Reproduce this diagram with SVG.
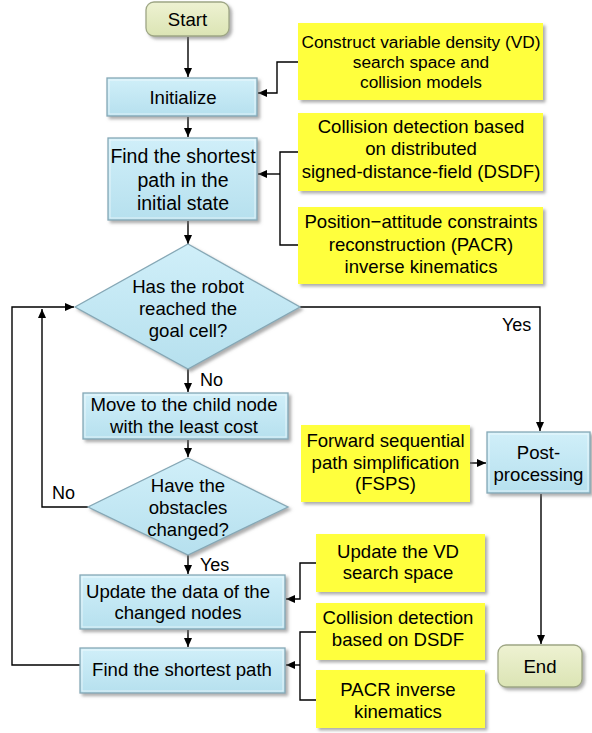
<svg xmlns="http://www.w3.org/2000/svg" width="592" height="733" viewBox="0 0 592 733">
<defs>
<linearGradient id="gBlue" x1="0" y1="0" x2="0" y2="1">
<stop offset="0" stop-color="#d0eff9"/>
<stop offset="1" stop-color="#b6e0ee"/>
</linearGradient>
<linearGradient id="gGreen" x1="0" y1="0" x2="0" y2="1">
<stop offset="0" stop-color="#eef2d2"/>
<stop offset="1" stop-color="#dbe4b4"/>
</linearGradient>
<filter id="sh" x="-10%" y="-10%" width="130%" height="130%">
<feDropShadow dx="2.5" dy="2.5" stdDeviation="1.5" flood-color="#777" flood-opacity="0.6"/>
</filter>
<marker id="ah" markerUnits="userSpaceOnUse" markerWidth="10" markerHeight="8" refX="9" refY="4" orient="auto">
<path d="M0,0 L9,4 L0,8 z" fill="#000"/>
</marker>
<style>
.blue{fill:url(#gBlue);stroke:#86a8b6;stroke-width:1.3;filter:url(#sh)}
.green{fill:url(#gGreen);stroke:#9ea685;stroke-width:1.3;filter:url(#sh)}
.yel{fill:#ffff3c;filter:url(#sh)}
.bev{fill:none;stroke:#ffffff;stroke-opacity:0.6;stroke-width:1}
text{font-family:"Liberation Sans",Arial,sans-serif;font-size:18.6px;fill:#000;text-anchor:middle}
.s17{font-size:17.3px}
.s19{font-size:19.5px}
.lab{text-anchor:start;font-size:18px}
.ln{fill:none;stroke:#000;stroke-width:1.4}
.ar{marker-end:url(#ah)}
</style>
</defs>

<g id="connectors">
<path class="ln ar" d="M188,37 V77"/>
<path class="ln ar" d="M188,117 V137"/>
<path class="ln ar" d="M188,221 V244"/>
<path class="ln ar" d="M298,62 H277 V93 H258"/>
<path class="ln" d="M298,152 H280 V245 H298"/>
<path class="ln ar" d="M280,174 H258"/>
<path class="ln ar" d="M300,307 H540 V431"/>
<path class="ln ar" d="M80,665 H12 V307 H74"/>
<path class="ln ar" d="M88,507 H42 V309"/>
<path class="ln ar" d="M188,369 V392"/>
<path class="ln ar" d="M188,440 V457"/>
<path class="ln ar" d="M188,555 V574"/>
<path class="ln ar" d="M188,630 V647"/>
<path class="ln ar" d="M316,563 H300 V599 H286"/>
<path class="ln" d="M316,632 H300 V700 H316"/>
<path class="ln ar" d="M300,665 H286"/>
<path class="ln ar" d="M470,463 H486"/>
<path class="ln ar" d="M541,494 V644"/>
<text class="lab" x="200" y="386">No</text>
<text class="lab" x="502" y="331">Yes</text>
<text class="lab" x="52" y="499">No</text>
<text class="lab" x="200" y="571">Yes</text>
</g>

<g id="start">
<rect class="green" x="146" y="2" width="83" height="34" rx="8"/>
<text x="187.5" y="26">Start</text>
</g>

<g id="initialize">
<rect class="blue" x="107" y="78" width="150" height="38"/>
<rect class="bev" x="109" y="80" width="146" height="34"/>
<text x="183" y="104">Initialize</text>
</g>

<g id="find-initial">
<rect class="blue" x="108" y="138" width="149" height="82"/>
<rect class="bev" x="110" y="140" width="145" height="78"/>
<text class="s19" x="183" y="163">Find the shortest</text>
<text class="s19" x="183" y="187">path in the</text>
<text class="s19" x="183" y="210">initial state</text>
</g>

<g id="construct-vd">
<rect class="yel" x="298" y="23" width="245" height="77"/>
<text class="s17" x="421" y="48">Construct variable density (VD)</text>
<text class="s17" x="421" y="68">search space and</text>
<text class="s17" x="421" y="88">collision models</text>
</g>

<g id="collision-dsdf">
<rect class="yel" x="298" y="113" width="245" height="78"/>
<text x="421" y="133">Collision detection based</text>
<text x="421" y="155">on distributed</text>
<text x="421" y="178">signed-distance-field (DSDF)</text>
</g>

<g id="pacr">
<rect class="yel" x="298" y="207" width="245" height="77"/>
<text x="421" y="228">Position−attitude constraints</text>
<text x="421" y="251">reconstruction (PACR)</text>
<text x="421" y="273">inverse kinematics</text>
</g>

<g id="goal-decision">
<polygon class="blue" points="188,244 300,307 188,369 75,307"/>
<text x="188" y="293">Has the robot</text>
<text x="188" y="315">reached the</text>
<text x="188" y="337">goal cell?</text>
</g>

<g id="move-child">
<rect class="blue" x="83" y="393" width="205" height="46"/>
<rect class="bev" x="85" y="395" width="201" height="42"/>
<text x="184" y="411">Move to the child node</text>
<text x="184" y="433">with the least cost</text>
</g>

<g id="obstacles-decision">
<polygon class="blue" points="188,458 288,507 188,555 88,507"/>
<text x="188" y="492">Have the</text>
<text x="188" y="514">obstacles</text>
<text x="188" y="536">changed?</text>
</g>

<g id="update-data">
<rect class="blue" x="80" y="575" width="205" height="54"/>
<rect class="bev" x="82" y="577" width="201" height="50"/>
<text x="178" y="598">Update the data of the</text>
<text x="178" y="619">changed nodes</text>
</g>

<g id="find-path">
<rect class="blue" x="80" y="648" width="205" height="45"/>
<rect class="bev" x="82" y="650" width="201" height="41"/>
<text x="182" y="676">Find the shortest path</text>
</g>

<g id="update-vd">
<rect class="yel" x="316" y="534" width="169" height="58"/>
<text x="398" y="558">Update the VD</text>
<text x="398" y="579">search space</text>
</g>

<g id="collision-short">
<rect class="yel" x="316" y="603" width="169" height="57"/>
<text x="398" y="624">Collision detection</text>
<text x="398" y="646">based on DSDF</text>
</g>

<g id="pacr-short">
<rect class="yel" x="316" y="670" width="169" height="58"/>
<text x="398" y="696">PACR inverse</text>
<text x="398" y="718">kinematics</text>
</g>

<g id="fsps">
<rect class="yel" x="301" y="425" width="169" height="77"/>
<text x="385.5" y="447">Forward sequential</text>
<text x="385.5" y="469">path simplification</text>
<text x="385.5" y="490">(FSPS)</text>
</g>

<g id="post-processing">
<rect class="blue" x="487" y="432" width="103" height="61"/>
<rect class="bev" x="489" y="434" width="99" height="57"/>
<text x="538.5" y="459">Post-</text>
<text x="538.5" y="481">processing</text>
</g>

<g id="end">
<rect class="green" x="498" y="645" width="84" height="42" rx="8"/>
<text x="540" y="673">End</text>
</g>
</svg>
